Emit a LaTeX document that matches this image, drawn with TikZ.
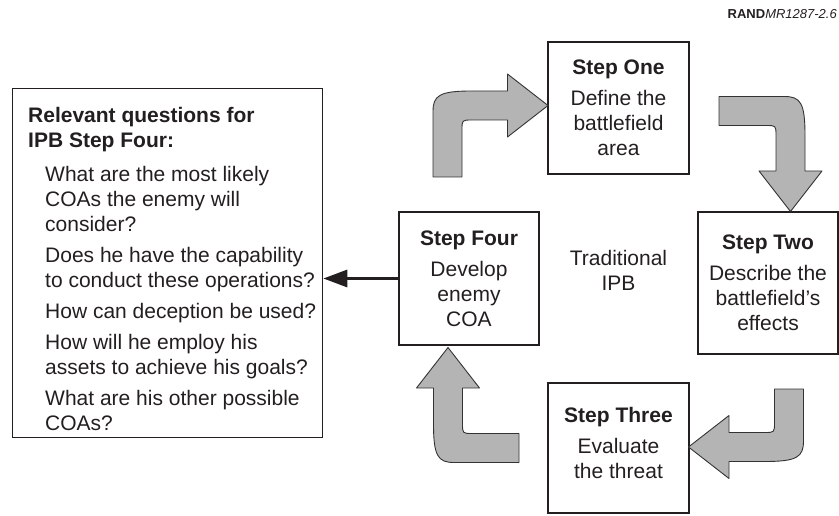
\documentclass[tikz,border=0pt]{standalone}
\usepackage{fontspec}
\setmainfont{Liberation Sans}
\usetikzlibrary{arrows.meta}
\definecolor{arrowgray}{RGB}{180,180,180}
\definecolor{ink}{RGB}{35,31,32}
\newcommand\bentarrow[2]{%
  \draw[bent, cm={#1}] (-14.5,#2) -- (-14.5,6)
    .. controls (-14.5,-10) and (-8,-14.5) .. (24,-14.5)
    -- (60,-14.5) -- (60,-31.5) -- (100.5,0) -- (60,31.5) -- (60,14.5)
    -- (24.5,14.5) .. controls (14.5,14.5) .. (14.5,24.5) -- (14.5,#2) -- cycle;}
\begin{document}
\begin{tikzpicture}[x=1pt,y=1pt,
  stepbox/.style={draw=ink, line width=1.3pt, align=center, text=ink,
    font=\fontsize{21}{25}\selectfont, inner sep=0pt,
    minimum width=141pt, minimum height=132pt},
  bent/.style={fill=arrowgray, draw=black!80, line width=0.9pt, line join=round},
  conn/.style={draw=ink, line width=3pt, -{Triangle[length=24pt,width=17pt]}}]
\useasboundingbox (0,0) rectangle (839,515);

\node[stepbox] (s1) at (618.5,407) {\textbf{Step One}\\[6pt]Define the\\battlefield\\area};
\node[stepbox, minimum width=140pt, minimum height=142pt] (s2) at (768,232) {\textbf{Step Two}\\[6pt]Describe the\\battlefield’s\\effects};
\node[stepbox, minimum height=130pt, text depth=10pt] (s3) at (618.5,67) {\textbf{Step Three}\\[6pt]Evaluate\\the threat};
\node[stepbox, minimum width=140pt, minimum height=133pt] (s4) at (469,236.5) {\textbf{Step Four}\\[6pt]Develop\\enemy\\COA};

\node[text=ink, align=center, font=\fontsize{21}{25}\selectfont] (trad) at (618.5,245) {Traditional\\IPB};

\node[draw=ink, line width=1.3pt, minimum width=310pt, minimum height=349pt, anchor=north west, inner sep=0pt] (qbox) at (12,427) {};
\node[anchor=north west, inner sep=0pt, align=left, text=ink, font=\fontsize{21}{25}\selectfont] (qtext) at (28,408)
 {\textbf{Relevant questions for}\\
  \textbf{IPB Step Four:}\\[9pt]
  \hspace*{17pt}What are the most likely\\
  \hspace*{17pt}COAs the enemy will\\
  \hspace*{17pt}consider?\\[6pt]
  \hspace*{17pt}Does he have the capability\\
  \hspace*{17pt}to conduct these operations?\\[6pt]
  \hspace*{17pt}How can deception be used?\\[6pt]
  \hspace*{17pt}How will he employ his\\
  \hspace*{17pt}assets to achieve his goals?\\[6pt]
  \hspace*{17pt}What are his other possible\\
  \hspace*{17pt}COAs?};

\node[anchor=base east, inner sep=0pt, text=ink, font=\fontsize{13}{15}\selectfont] (rand) at (837,496) {\textbf{RAND}\textit{MR1287-2.6}};

\draw[conn] (s4.west) -- (s4.west -| qbox.east);

\bentarrow{1,0,0,-1,(447.5,409.5)}{71.5}
\bentarrow{0,-1,-1,0,(790.5,404)}{71.5}
\bentarrow{-1,0,0,1,(789,68)}{58}
\bentarrow{0,1,1,0,(448,67)}{71}
\end{tikzpicture}
\end{document}
